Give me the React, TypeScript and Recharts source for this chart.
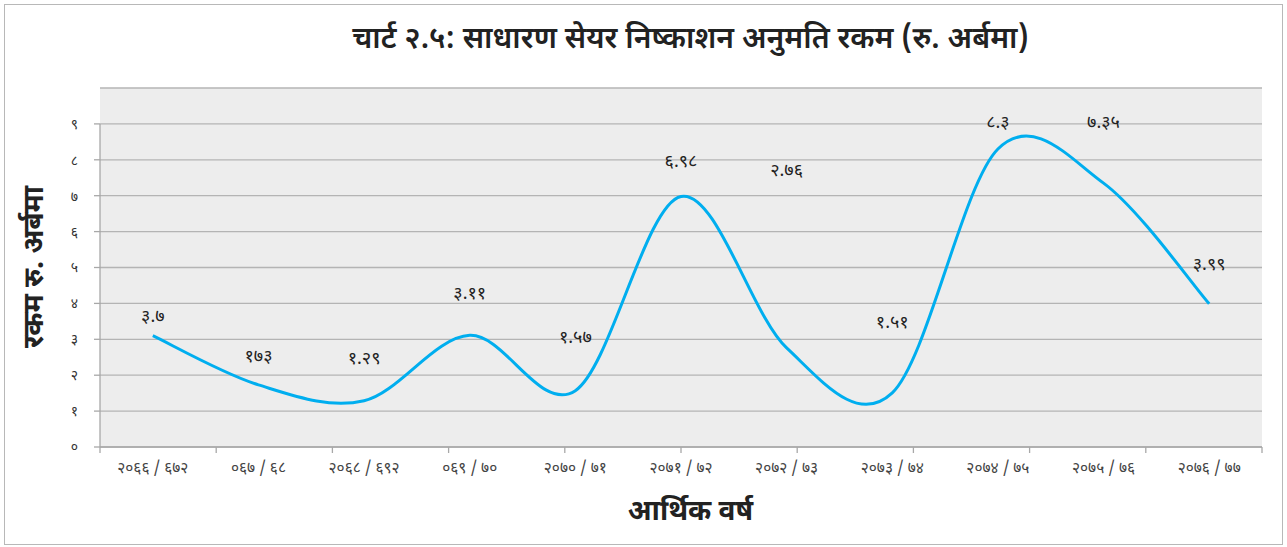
import {
  ComposedChart,
  Line,
  XAxis,
  YAxis,
  CartesianGrid,
  ReferenceLine,
  LabelList,
} from "recharts";

const years = [
  "२०६६ / ६७२",
  "०६७ / ६८",
  "२०६८ / ६९२",
  "०६९ / ७०",
  "२०७० / ७१",
  "२०७१ / ७२",
  "२०७२ / ७३",
  "२०७३ / ७४",
  "२०७४ / ७५",
  "२०७५ / ७६",
  "२०७६ / ७७",
];

// रकम (रु. अर्बमा)
const amounts = [3.1, 1.73, 1.29, 3.11, 1.57, 6.98, 2.76, 1.51, 8.3, 7.35, 3.99];

// data labels as printed on the chart
const labelTexts = ["३.७", "१७३", "१.२९", "३.११", "१.५७", "६.९८", "२.७६", "१.५१", "८.३", "७.३५", "३.९९"];

const yTicks = [0, 1, 2, 3, 4, 5, 6, 7, 8, 9];
const yTickNames = ["०", "१", "२", "३", "४", "५", "६", "७", "८", "९"];
const boundaryTicks = [0, 1, 2, 3, 4, 5, 6, 7, 8, 9, 10, 11];

// labels were dragged by hand in the original, level in axis units
const labelLevels = [3.67, 2.55, 2.5, 4.29, 3.08, 7.99, 7.74, 3.48, 9.06, 9.06, 5.1];

const data = years.map((y, i) => ({
  year: y,
  amount: amounts[i],
  labelAt: labelLevels[i],
  label: labelTexts[i],
}));

const deva = '"Noto Sans Devanagari", "Noto Sans", "DejaVu Sans", sans-serif';

// excel style smoothed line (cardinal bezier, 1/6 tangents)
function excelCurve(ctx: any) {
  let pts: [number, number][] = [];
  return {
    areaStart() {},
    areaEnd() {},
    lineStart() {
      pts = [];
    },
    point(x: number, y: number) {
      pts.push([+x, +y]);
    },
    lineEnd() {
      if (!pts.length) return;
      ctx.moveTo(pts[0][0], pts[0][1]);
      for (let i = 0; i < pts.length - 1; i++) {
        const p0 = pts[i - 1] || pts[i];
        const p1 = pts[i];
        const p2 = pts[i + 1];
        const p3 = pts[i + 2] || p2;
        ctx.bezierCurveTo(
          p1[0] + (p2[0] - p0[0]) / 6,
          p1[1] + (p2[1] - p0[1]) / 6,
          p2[0] - (p3[0] - p1[0]) / 6,
          p2[1] - (p3[1] - p1[1]) / 6,
          p2[0],
          p2[1]
        );
      }
    },
  };
}

export default function App() {
  return (
    <div
      style={{
        position: "absolute",
        left: 0,
        top: 0,
        width: 1287,
        height: 547,
        background: "#fff",
        fontFamily: deva,
      }}
    >
      <div
        style={{
          position: "absolute",
          left: 4,
          top: 4,
          width: 1277,
          height: 539,
          border: "1px solid #b8b8b8",
        }}
      />
      <div
        style={{
          position: "absolute",
          left: 0,
          width: 1287,
          top: 21,
          textAlign: "center",
          fontSize: 30,
          fontWeight: 600,
          color: "#222",
          paddingLeft: 94,
          boxSizing: "border-box",
        }}
      >
        चार्ट २.५: साधारण सेयर निष्काशन अनुमति रकम (रु. अर्बमा)
      </div>
      <div
        style={{
          position: "absolute",
          left: 36,
          top: 267,
          transform: "translate(-50%, -50%) rotate(-90deg)",
          whiteSpace: "nowrap",
          fontSize: 28,
          fontWeight: 700,
          color: "#222",
        }}
      >
        रकम रु. अर्बमा
      </div>
      <div
        style={{
          position: "absolute",
          left: 0,
          width: 1287,
          top: 495,
          textAlign: "center",
          fontSize: 28,
          fontWeight: 700,
          color: "#222",
          paddingLeft: 94,
          boxSizing: "border-box",
        }}
      >
        आर्थिक वर्ष
      </div>
      <div style={{ position: "absolute", left: 0, top: 0 }}>
        <ComposedChart
          width={1287}
          height={547}
          data={data}
          margin={{ top: 88, right: 25, bottom: 70, left: 0 }}
        >
          <CartesianGrid
            vertical={false}
            fill="#ededed"
            stroke="#b4b4b4"
            strokeWidth={1.3}
          />
          <XAxis
            xAxisId="edge"
            type="number"
            domain={[0, 11]}
            ticks={boundaryTicks}
            allowDataOverflow
            height={2}
            tickFormatter={() => ""}
            tickSize={6}
            axisLine={{ stroke: "#a8a8a8", strokeWidth: 1.3 }}
            tickLine={{ stroke: "#a8a8a8", strokeWidth: 1.3 }}
          />
          <XAxis
            xAxisId="year"
            dataKey="year"
            scale="band"
            height={28}
            tickSize={0}
            tickMargin={13}
            axisLine={false}
            tickLine={false}
            interval={0}
            tick={{ fontSize: 15.5, fill: "#444", fontFamily: deva }}
          />
          <YAxis
            width={100}
            domain={[0, 10]}
            ticks={yTicks}
            allowDataOverflow
            axisLine={false}
            tickSize={6}
            tickMargin={16}
            tickLine={{ stroke: "#a8a8a8", strokeWidth: 1.3 }}
            tickFormatter={(v: number) => yTickNames[v]}
            tick={{ fontSize: 14, fill: "#333", fontFamily: deva }}
          />
          <ReferenceLine
            xAxisId="edge"
            segment={[
              { x: 0, y: 0 },
              { x: 0, y: 9 },
            ]}
            stroke="#a8a8a8"
            strokeWidth={1.3}
          />
          <Line
            xAxisId="year"
            type={excelCurve as any}
            dataKey="amount"
            stroke="#00aeef"
            strokeWidth={3}
            dot={false}
            activeDot={false}
            isAnimationActive={false}
          />
          <Line
            xAxisId="year"
            dataKey="labelAt"
            stroke="none"
            dot={false}
            activeDot={false}
            isAnimationActive={false}
          >
            <LabelList
              dataKey="label"
              position="center"
              style={{ fontSize: 18, fill: "#222", fontFamily: deva }}
            />
          </Line>
        </ComposedChart>
      </div>
    </div>
  );
}
